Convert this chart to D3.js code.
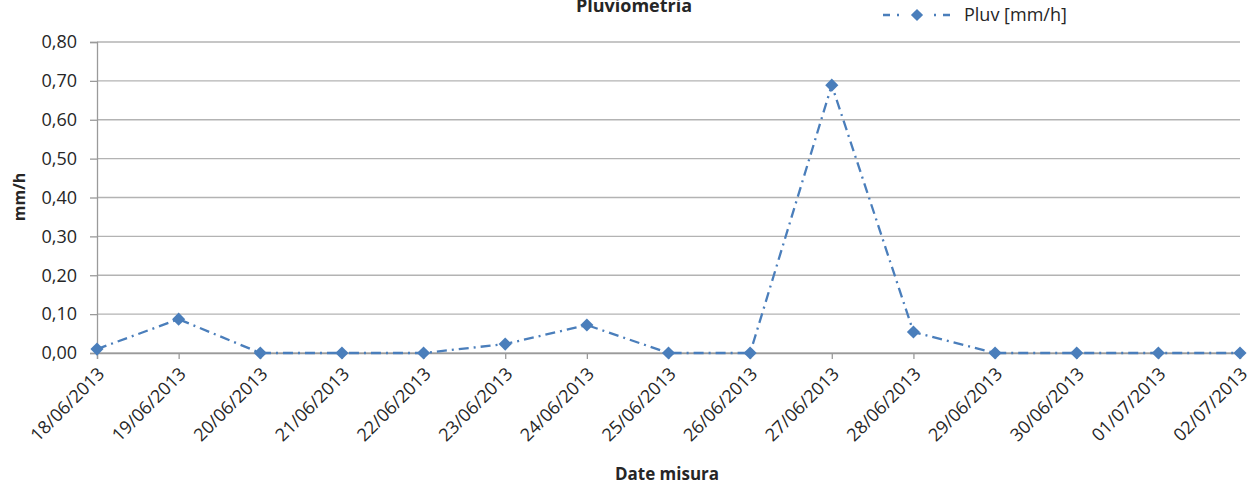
<!DOCTYPE html>
<html><head><meta charset="utf-8">
<script src="https://cdn.jsdelivr.net/npm/d3@7"></script>
<style>
body{margin:0;background:#fff;}
text{font-family:"Open Sans","Liberation Sans",sans-serif;fill:#262626;}
</style></head>
<body><svg id="c" width="1253" height="486"></svg>
<script>
const categories = ["18/06/2013","19/06/2013","20/06/2013","21/06/2013","22/06/2013","23/06/2013","24/06/2013","25/06/2013","26/06/2013","27/06/2013","28/06/2013","29/06/2013","30/06/2013","01/07/2013","02/07/2013"];
const pluv = [0.010,0.087,0.000,0.000,0.000,0.023,0.072,0.000,0.000,0.689,0.054,0.000,0.000,0.000,0.000];
const yTicks = [0,0.1,0.2,0.3,0.4,0.5,0.6,0.7,0.8];
const seriesName = "Pluv [mm/h]";
const title = "Pluviometria";
const xTitle = "Date misura";
const yTitle = "mm/h";

const svg = d3.select("#c");
const L=97,R=1240,T=42,B=353;
const color="#4a7ebb";
const x = d3.scalePoint().domain(categories).range([L,R]);
const y = d3.scaleLinear().domain([0,0.8]).range([B,T]);
const fmt = d => d3.format(".2f")(d).replace(".",",");
const font = "'Open Sans',sans-serif";

// gridlines
svg.append("g").selectAll("line").data(yTicks).join("line")
  .attr("x1",L).attr("x2",R).attr("y1",d=>y(d)).attr("y2",d=>y(d))
  .attr("stroke","#b3b3b3").attr("stroke-width",1.3);

// y axis
const ya = svg.append("g").attr("transform",`translate(${L},0)`)
  .call(d3.axisLeft(y).tickValues(yTicks).tickFormat(fmt).tickSize(7).tickPadding(13));
ya.select(".domain").attr("stroke","#9a9a9a").attr("stroke-width",1.3);
ya.selectAll(".tick line").attr("stroke","#9a9a9a").attr("stroke-width",1.3);
ya.selectAll("text").attr("font-size",18).style("font-family",font).attr("fill","#262626");

// x axis
const xa = svg.append("g").attr("transform",`translate(0,${B})`)
  .call(d3.axisBottom(x).tickSize(6).tickPadding(0));
xa.select(".domain").attr("stroke","#9a9a9a").attr("stroke-width",1.3);
xa.selectAll(".tick line").attr("stroke","#9a9a9a").attr("stroke-width",1.3);
xa.selectAll("text").attr("font-size",18).style("font-family",font).attr("fill","#262626")
  .attr("text-anchor","end").attr("dy",0).attr("y",0)
  .attr("transform","translate(8,22) rotate(-45)");

// line
svg.append("path").datum(pluv)
  .attr("fill","none").attr("stroke",color).attr("stroke-width",2.3)
  .attr("stroke-dasharray","10,5,2,5")
  .attr("d",d3.line().x((d,i)=>x(categories[i])).y(d=>y(d)));

const diamond = d3.symbol().type(d3.symbolDiamond2).size(110);
svg.append("g").selectAll("path").data(pluv).join("path")
  .attr("d",diamond).attr("fill",color)
  .attr("transform",(d,i)=>`translate(${x(categories[i])},${y(d)})`);

// title
svg.append("text").attr("x",634).attr("y",12).attr("text-anchor","middle")
  .attr("font-size",18).attr("font-weight","bold").text(title);

// legend
const lg = svg.append("g");
lg.append("line").attr("x1",883).attr("x2",901).attr("y1",15).attr("y2",15)
  .attr("stroke",color).attr("stroke-width",2.3).attr("stroke-dasharray","7,7,2,20");
lg.append("line").attr("x1",950).attr("x2",932).attr("y1",15).attr("y2",15)
  .attr("stroke",color).attr("stroke-width",2.3).attr("stroke-dasharray","7,7,2,20");
lg.append("path").attr("d",d3.symbol().type(d3.symbolDiamond2).size(95)).attr("fill",color).attr("transform","translate(917,15)");
lg.append("text").attr("x",964).attr("y",21).attr("font-size",18).text(seriesName);

// axis titles
svg.append("text").attr("x",667).attr("y",480).attr("text-anchor","middle")
  .attr("font-size",17).attr("font-weight","bold").text(xTitle);
svg.append("text").attr("transform","translate(25,197) rotate(-90)").attr("text-anchor","middle")
  .attr("font-size",16).attr("font-weight","bold").text(yTitle);
</script></body></html>
